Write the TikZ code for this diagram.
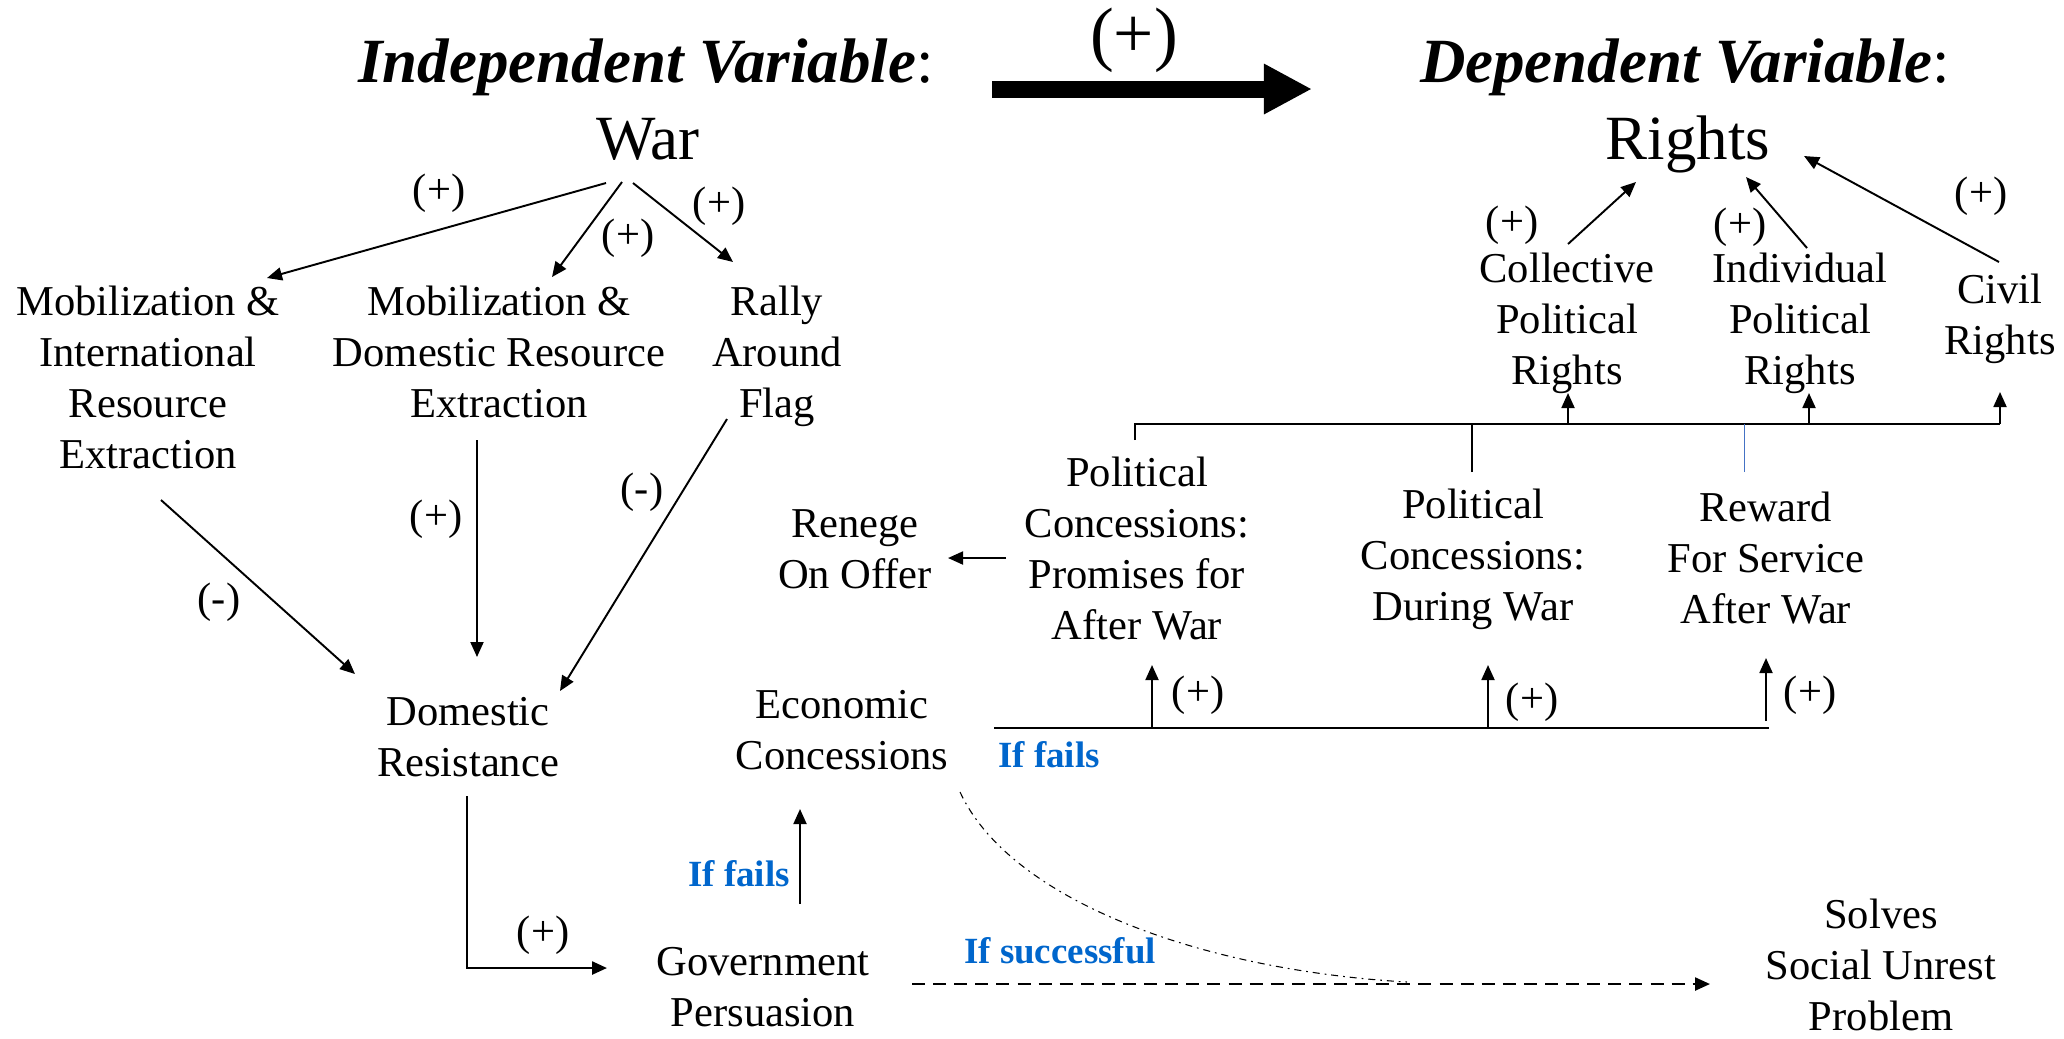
\documentclass[tikz,border=0pt]{standalone}
\usepackage{fontspec}
\setmainfont{Liberation Serif}
\usetikzlibrary{arrows.meta}
\definecolor{failblue}{RGB}{0,102,204}
\definecolor{linkblue}{RGB}{68,114,196}

\begin{document}
\begin{tikzpicture}[x=0.01cm, y=-0.01cm,
    every node/.style={inner sep=0pt, align=center, font=\fontsize{12.1}{14.5}\selectfont},
    headline/.style={font=\fontsize{17.9}{21}\selectfont, anchor=base},
    arr/.style={line width=0.55pt, -{Triangle[length=0.15cm, width=0.13cm]}},
    ifnote/.style={text=failblue, font=\fontsize{10.5}{12}\selectfont\bfseries}]
      \useasboundingbox (0,0) rectangle (2064,1038);

      % headings
      \node[headline] (indep) at (646,82) {\textbf{\textit{Independent Variable}}:};
      \node[headline] (war) at (648,159) {War};
      \node[headline] (dep) at (1685,82) {\textbf{\textit{Dependent Variable}}:};
      \node[headline] (rights) at (1688,159) {Rights};
      \node[font=\fontsize{20.3}{24}\selectfont] (bigsign) at (1134,40) {(+)};
      \draw[line width=0.17cm, -{Triangle[length=0.48cm, width=0.47cm]}]
        ([shift={(346,7)}]indep.base) -- ([shift={(-373,7)}]dep.base);

      % left side
      \node (intl) at (148,377) {Mobilization \&\\International\\Resource\\Extraction};
      \node (dom) at (499,352) {Mobilization \&\\Domestic Resource\\Extraction};
      \node (rally) at (777,356) {Rally\\Around\\Flag};
      \node (domres) at (468,737) {Domestic\\Resistance};
      \node (govt) at (763,987) {Government\\Persuasion};
      \node (econ) at (842,730) {Economic\\Concessions};
      \node (renege) at (855,549) {Renege\\On Offer};

      % right side
      \node (pcpromise) at (1137,549) {Political\\Concessions:\\Promises for\\After War};
      \node (pcduring) at (1473,559) {Political\\Concessions:\\During War};
      \node (reward) at (1766,558) {Reward\\For Service\\After War};
      \node (collective) at (1567,323) {Collective\\Political\\Rights};
      \node (individual) at (1800,323) {Individual\\Political\\Rights};
      \node (civil) at (2000,319) {Civil\\Rights};
      \node (solves) at (1881,965) {Solves\\Social Unrest\\Problem};

      % signs and conditions
      \foreach \x/\y [count=\i] in {439/193, 628/238, 719/206, 436/519, 543/935, 1198/695,
          1532/702, 1810/695, 1512/225, 1740/227, 1981/196} {
        \node (plus\i) at (\x,\y) {(+)};
      }
      \foreach \x/\y [count=\i] in {219/602, 642/492} {
        \node (minus\i) at (\x,\y) {(-)};
      }
      \node[ifnote] (fails1) at (739,874) {If fails};
      \node[ifnote] (fails2) at (1049,755) {If fails};
      \node[ifnote] (success) at (1060,951) {If successful};

      % war to mechanisms
      \draw[arr] ([shift={(-42,24)}]war.base) -- ([shift={(119,-99)}]intl.center);
      \draw[arr] ([shift={(-26,23)}]war.base) -- ([shift={(53,-75)}]dom.center);
      \draw[arr] ([shift={(-15,24)}]war.base) -- ([shift={(-44,-94)}]rally.center);
      \draw[arr] ([shift={(13,123)}]intl.center) -- ([shift={(-113,-63)}]domres.center);
      \draw[arr] ([shift={(-22,88)}]dom.center) -- ([shift={(9,-80)}]domres.center);
      \draw[arr] ([shift={(-50,63)}]rally.center) -- ([shift={(92,-46)}]domres.center);
      \draw[arr, line width=0.7pt] ([shift={(-1,59)}]domres.center) |- ([shift={(-156,-19)}]govt.center);
      \draw[arr] ([shift={(37,-83)}]govt.center) -- ([shift={(-42,79)}]econ.center);
      \draw[arr] ([shift={(-131,9)}]pcpromise.center) -- ([shift={(93,9)}]renege.center);

      % concessions bar
      \draw[line width=0.6pt] ([shift={(152,-2)}]econ.center) -- ([shift={(3,170)}]reward.center);
      \draw[arr] ([shift={(15,179)}]pcpromise.center) -- ([shift={(15,116)}]pcpromise.center);
      \draw[arr] ([shift={(15,169)}]pcduring.center) -- ([shift={(15,106)}]pcduring.center);
      \draw[arr] ([shift={(0,163)}]reward.center) -- ([shift={(0,100)}]reward.center);

      % rights bar
      \draw[line width=0.6pt] ([shift={(-2,-109)}]pcpromise.center) |- ([shift={(0,105)}]civil.center);
      \draw[line width=0.5pt] ([shift={(-1,-87)}]pcduring.center) -- ([shift={(-1,-135)}]pcduring.center);
      \draw[linkblue, line width=0.3pt] ([shift={(-22,-86)}]reward.center) -- ([shift={(-22,-134)}]reward.center);
      \draw[arr] ([shift={(1,101)}]collective.center) -- ([shift={(1,70)}]collective.center);
      \draw[arr] ([shift={(9,101)}]individual.center) -- ([shift={(9,70)}]individual.center);
      \draw[arr] ([shift={(0,105)}]civil.center) -- ([shift={(0,73)}]civil.center);
      \draw[arr] ([shift={(1,-79)}]collective.center) -- ([shift={(-52,23)}]rights.base);
      \draw[arr] ([shift={(7,-75)}]individual.center) -- ([shift={(58,18)}]rights.base);
      \draw[arr] ([shift={(-1,-57)}]civil.center) -- ([shift={(116,-3)}]rights.base);

      % outcome
      \draw[arr, line width=0.65pt, dash pattern=on 3.7pt off 2.3pt]
        ([shift={(149,-3)}]govt.center) -- ([shift={(-171,19)}]solves.center);
      \draw[line width=0.3pt, dash pattern=on 2pt off 1.4pt on 0.5pt off 1.4pt]
        ([shift={(118,62)}]econ.center) .. controls +(50,108) and +(-207,-12) .. ([shift={(-474,17)}]solves.center);
\end{tikzpicture}
\end{document}
